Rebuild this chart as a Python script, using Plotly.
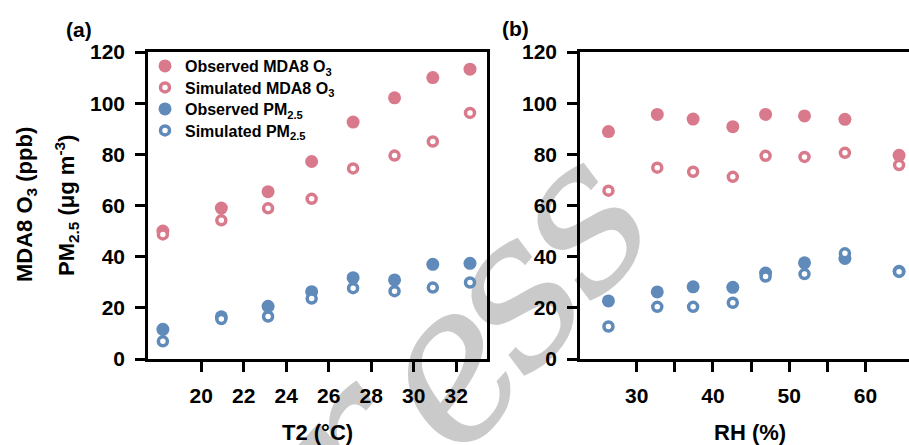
import plotly.graph_objects as go

# Panel (a): binned 2-m temperature
t2_bins = [18.2, 20.95, 23.15, 25.2, 27.15, 29.1, 30.9, 32.65]
t2_obs_o3 = [50.0, 59.0, 65.4, 77.2, 92.6, 102.1, 110.0, 113.3]
t2_sim_o3 = [48.7, 54.2, 58.9, 62.6, 74.5, 79.5, 85.0, 96.2]
t2_obs_pm = [11.6, 16.5, 20.6, 26.3, 31.8, 30.9, 37.0, 37.4]
t2_sim_pm = [6.9, 15.6, 16.6, 23.6, 27.7, 26.5, 27.9, 29.9]

# Panel (b): binned relative humidity
rh_bins = [26.3, 32.7, 37.4, 42.6, 46.9, 52.0, 57.3, 64.4]
rh_obs_o3 = [88.9, 95.6, 93.8, 90.8, 95.6, 95.0, 93.7, 79.6]
rh_sim_o3 = [65.8, 74.8, 73.2, 71.2, 79.4, 79.0, 80.6, 75.8]
rh_obs_pm = [22.7, 26.2, 28.2, 28.0, 33.6, 37.6, 39.3, 34.3]
rh_sim_pm = [12.7, 20.4, 20.4, 22.0, 32.2, 33.2, 41.3, 34.1]

y_ticks = [0, 20, 40, 60, 80, 100, 120]
t2_ticks = [20, 22, 24, 26, 28, 30, 32]
rh_ticks = [30, 35, 40, 45, 50, 55, 60]
rh_tick_text = ["30", "", "40", "", "50", "", "60"]

PINK = "#D97A8C"
BLUE = "#5F8AB9"
FONT = "Liberation Sans"
W, H = 909, 445

names = ["Observed MDA8 O<sub>3</sub>", "Simulated MDA8 O<sub>3</sub>",
         "Observed PM<sub>2.5</sub>", "Simulated PM<sub>2.5</sub>"]
colors = [PINK, PINK, BLUE, BLUE]
filled = [True, False, True, False]
legend_ids = ["legend", "legend2", "legend3", "legend4"]
legend_rows = [66, 87.5, 109, 130.5]   # pixel row of each legend entry

fig = go.Figure()
panels = [
    ("x", "y", t2_bins, [t2_obs_o3, t2_sim_o3, t2_obs_pm, t2_sim_pm], True),
    ("x2", "y2", rh_bins, [rh_obs_o3, rh_sim_o3, rh_obs_pm, rh_sim_pm], False),
]
for xa, ya, xs, series, show in panels:
    for name, col, fill, ys, lid in zip(names, colors, filled, series, legend_ids):
        if fill:
            marker = dict(symbol="circle", size=13, color=col, line=dict(width=0))
        else:
            marker = dict(symbol="circle", size=9, color="white",
                          line=dict(width=3.5, color=col))
        fig.add_trace(go.Scatter(
            x=xs, y=ys, mode="markers", name=name, marker=marker,
            xaxis=xa, yaxis=ya, showlegend=show, legend=lid, cliponaxis=False))


def px_x(p):
    return p / W


def px_y(p):
    return 1 - p / H


axis_common = dict(
    showline=True, linecolor="black", linewidth=2.5,
    ticks="outside", ticklen=10, tickwidth=2.5, tickcolor="black",
    showgrid=False, zeroline=False, automargin=False,
    tickfont=dict(family=FONT, size=21, color="black", weight="bold"),
)

y_dom = [px_y(359), px_y(52)]

fig.update_layout(
    template="none",
    width=W, height=H,
    margin=dict(l=0, r=0, t=0, b=0, autoexpand=False),
    paper_bgcolor="white", plot_bgcolor="white",
    xaxis=dict(axis_common, domain=[px_x(148), px_x(487)], range=[17.5, 33.45],
               tickvals=t2_ticks, mirror=True, anchor="y", ticklabelstandoff=6),
    yaxis=dict(axis_common, domain=y_dom, range=[0, 120], tickvals=y_ticks,
               mirror=True, anchor="x", ticklabelstandoff=6),
    xaxis2=dict(axis_common, domain=[px_x(580), 1.0], range=[22.57, 65.7],
                tickvals=rh_ticks, ticktext=rh_tick_text, mirror=True,
                anchor="y2", ticklabelstandoff=6),
    yaxis2=dict(axis_common, domain=y_dom, range=[0, 120], tickvals=y_ticks,
                anchor="x2", ticklabelstandoff=6),
    showlegend=True,
)
for lid, row in zip(legend_ids, legend_rows):
    fig.update_layout({lid: dict(
        x=px_x(145), y=px_y(row), xanchor="left", yanchor="middle",
        bgcolor="rgba(0,0,0,0)", borderwidth=0,
        font=dict(family=FONT, size=16, color="black", weight="bold"))})

bold = dict(family=FONT, color="black", weight="bold")
texts = [
    ("(a)", 79, 30, 21, 0),
    ("(b)", 515, 29, 21, 0),
    ("T2 (°C)", 317, 432, 22, 0),
    ("RH (%)", 750, 432, 22, 0),
    ("MDA8 O<sub>3</sub> (ppb)", 26, 205, 22, -90),
    ("PM<sub>2.5</sub> (μg m<sup>-3</sup>)", 66, 206, 22, -90),
]
for txt, x, y, size, ang in texts:
    fig.add_annotation(text=txt, x=px_x(x), y=px_y(y), xref="paper", yref="paper",
                       xanchor="center", yanchor="middle",
                       showarrow=False, textangle=ang,
                       font=dict(bold, size=size))

# publisher watermark letters, kept beneath the axes and markers
watermark = [("r", 332, 440), ("e", 434, 358), ("s", 498, 283), ("s", 564, 208)]
for ch, cx, cy in watermark:
    fig.add_shape(type="rect", xref="paper", yref="paper",
                  x0=px_x(cx - 5), x1=px_x(cx + 5), y0=px_y(cy + 5), y1=px_y(cy - 5),
                  line=dict(width=0), fillcolor="rgba(0,0,0,0)", layer="below",
                  label=dict(text=f"<i>{ch}</i>", textangle=-48,
                             textposition="middle center", padding=0,
                             font=dict(family="DejaVu Serif", size=210,
                                       color="#CACACA")))

fig.write_html("out.html")
